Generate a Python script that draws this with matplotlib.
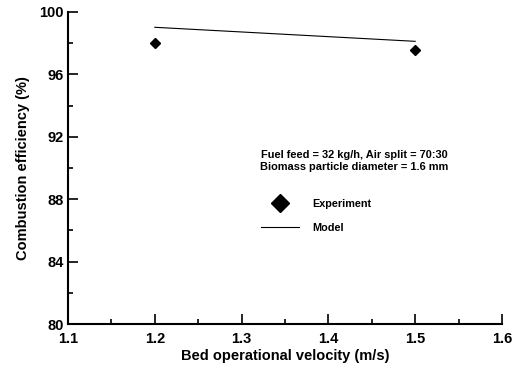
import matplotlib
matplotlib.use('Agg')
import matplotlib.pyplot as plt
from matplotlib.ticker import MultipleLocator

plt.rcParams['font.family'] = ['Liberation Sans', 'DejaVu Sans']
plt.rcParams['font.weight'] = 'bold'

# data
velocity = [1.2, 1.5]
exp_eff = [98.03, 97.54]
model_eff = [99.02, 98.12]

fig = plt.figure(figsize=(5.29, 3.67), dpi=100)
ax = fig.add_axes([68/529, 1 - 324/367, (502-68)/529, (324-12)/367])

ax.plot(velocity, exp_eff, 'D', color='black', markersize=5, label='Experiment', clip_on=False)
ax.plot(velocity, model_eff, '-', color='black', linewidth=0.8, label='Model')

ax.set_xlim(1.1, 1.6)
ax.set_ylim(80, 100)
ax.xaxis.set_major_locator(MultipleLocator(0.1))
ax.xaxis.set_minor_locator(MultipleLocator(0.05))
ax.yaxis.set_major_locator(MultipleLocator(4))
ax.yaxis.set_minor_locator(MultipleLocator(2))
ax.tick_params(which='both', direction='in', labelsize=10.5, width=1.2)
ax.tick_params(axis='x', pad=6)
ax.tick_params(axis='y', pad=3)
ax.tick_params(which='major', length=7)
ax.tick_params(which='minor', length=3.5)
for lab in ax.get_xticklabels() + ax.get_yticklabels():
    lab.set_fontweight('bold')
ax.spines['top'].set_visible(False)
ax.spines['right'].set_visible(False)
for s in ['left', 'bottom']:
    ax.spines[s].set_linewidth(1.5)

ax.set_xlabel('Bed operational velocity (m/s)', fontsize=10.5, fontweight='bold', labelpad=2)
ax.set_ylabel('Combustion efficiency (%)', fontsize=10.5, fontweight='bold', labelpad=7)

ax.text(1.43, 90.45, 'Fuel feed = 32 kg/h, Air split = 70:30\nBiomass particle diameter = 1.6 mm',
        ha='center', va='center', fontsize=7.9, fontweight='bold', linespacing=1.25)

ax.legend(loc='upper left', bbox_to_anchor=(261/529, 1 - 199/367), bbox_transform=fig.transFigure,
          frameon=False, fontsize=7.8, handlelength=3.5, handletextpad=1.2,
          labelspacing=1.3, borderpad=0, borderaxespad=0, markerscale=1.8)

plt.savefig('out.png', dpi=100)
